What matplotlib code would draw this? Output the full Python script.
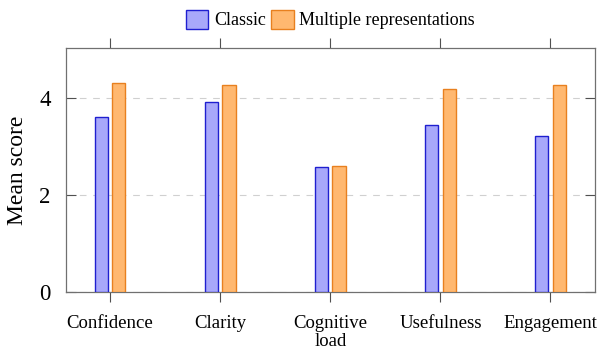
import matplotlib.pyplot as plt
import numpy as np

categories = ['Confidence', 'Clarity', 'Cognitive\nload', 'Usefulness', 'Engagement']
classic = [3.61, 3.90, 2.57, 3.44, 3.20]
multiple = [4.31, 4.26, 2.59, 4.18, 4.26]
series_names = ['Classic', 'Multiple representations']

plt.rcParams['font.family'] = ['Liberation Serif', 'DejaVu Serif']

fig = plt.figure(figsize=(5.98, 3.49), dpi=100)
ax = fig.add_axes([66/598, 1 - 292/349, (594.5 - 66)/598, (292 - 48)/349])

x = np.arange(len(categories))
w = 0.12
off = 0.08
ax.bar(x - off, classic, w, color='#a8a8fa', edgecolor='#1f1fd0', linewidth=1.0,
       label=series_names[0], zorder=3)
ax.bar(x + off, multiple, w, color='#ffb870', edgecolor='#e8801f', linewidth=1.0,
       label=series_names[1], zorder=3)

ax.set_xlim(-0.4, 4.4)
ax.set_ylim(0, 5.02)
ax.set_yticks([0, 2, 4])
ax.set_xticks(x)
ax.set_xticklabels(categories, fontsize=13.5, linespacing=1.05)
ax.tick_params(axis='y', labelsize=16.5, direction='in', length=7.5, width=0.8,
               color='#505050', right=True, pad=11)
ax.tick_params(axis='x', direction='out', length=7.5, width=0.8,
               color='#505050', top=True, pad=9)
ax.grid(axis='y', color='#d0d0d0', linestyle=(0, (6, 6)), linewidth=0.8, zorder=0)
for s in ax.spines.values():
    s.set_color('#707070')
    s.set_linewidth(0.9)

ax.set_ylabel('Mean score', fontsize=17, labelpad=8)

ax.legend(loc='lower center', bbox_to_anchor=(0.5, 1.025), ncol=2, frameon=False,
          fontsize=13, handlelength=1.25, handleheight=1.25, handletextpad=0.3,
          columnspacing=0.3, borderaxespad=0.3)

fig.savefig('out.png', dpi=100)
